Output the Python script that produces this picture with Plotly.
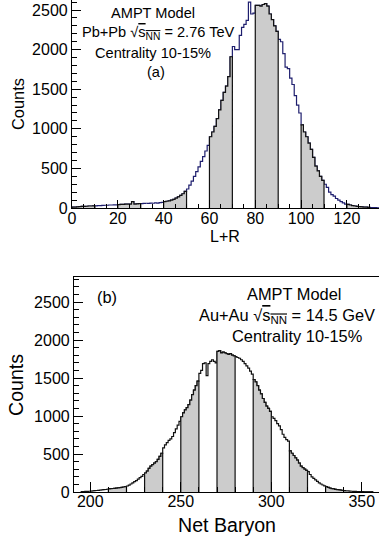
import numpy as np
import plotly.graph_objects as go

# ---------------- data ----------------
# Panel (a): L+R distribution, bins of width 1 starting at 0
lr_start = 0
lr_counts = [
    10, 12, 15, 18, 20, 20, 22, 25, 25, 28,
    28, 30, 30, 32, 35, 35, 38, 38, 40, 40,
    42, 45, 45, 48, 48, 50, 80, 50, 52, 55,
    55, 58, 60, 58, 62, 60, 65, 62, 68, 70,
    80, 85, 90, 100, 110, 125, 140, 160, 180, 210,
    240, 290, 340, 400, 460, 520, 590, 650, 720, 790,
    900, 960, 1030, 1130, 1240, 1360, 1460, 1540, 1660, 1910,
    2040, 2000, 2000, 2180, 2280, 2320, 2370, 2600, 2450, 2460,
    2560, 2560, 2550, 2570, 2580, 2550, 2450, 2380, 2300, 2230,
    2130, 2100, 1950, 1780, 1760, 1640, 1560, 1420, 1300, 1200,
    1050, 960, 900, 820, 740, 640, 530, 470, 400, 350,
    300, 260, 200, 170, 150, 120, 100, 80, 65, 50,
    45, 38, 30, 25, 20, 17, 14, 12, 10, 8,
    6, 5, 4, 3,
]
lr_bands = [0, 20, 40, 60, 80, 100, 120]

# Panel (b): Net baryon distribution, bins of width 1 starting at 195
nb_start = 195
nb_counts = [
    5, 6, 8, 8, 10,
    12, 14, 17, 20, 22, 25, 27, 30, 33, 36,
    40, 44, 46, 48, 50, 55, 58, 62, 66, 72,
    79, 90, 105, 120, 136, 150, 170, 190, 205, 230,
    250, 275, 310, 340, 360, 380, 400, 430, 470, 510,
    580, 620, 650, 680, 700, 730, 780, 830, 880, 930,
    990, 1040, 1080, 1110, 1150, 1210, 1280, 1340, 1400, 1460,
    1560, 1600, 1690, 1700, 1530, 1690, 1720, 1740, 1720, 1700,
    1850, 1860, 1830, 1840, 1830, 1820, 1810, 1820, 1800, 1790,
    1780, 1770, 1760, 1740, 1720, 1690, 1660, 1630, 1590, 1550,
    1480, 1450, 1400, 1340, 1290, 1230, 1180, 1130, 1100, 1060,
    990, 970, 940, 900, 870, 820, 760, 720, 690, 670,
    540, 510, 480, 450, 420, 380, 340, 320, 300, 285,
    267, 230, 200, 180, 160, 140, 120, 105, 92, 80,
    70, 60, 52, 45, 40, 35, 30, 27, 24, 20,
    18, 16, 14, 12, 10, 8, 8, 6, 5, 5,
    4, 3, 3, 2, 2, 1,
]
nb_bands = [210, 230, 250, 270, 290, 310, 330, 350]
band_width = 10

# ---------------- helpers ----------------
def step_outline(start, counts):
    edges = start + np.arange(len(counts))
    c = np.asarray(counts, dtype=float)
    x = np.concatenate([[edges[0]], edges, [edges[-1] + 1, edges[-1] + 1]])
    y = np.concatenate([[0.0], c, [c[-1], 0.0]])
    return x, y

def band_shape(start, counts, lo, width):
    edges = start + np.arange(len(counts))
    c = np.asarray(counts, dtype=float)
    m = (edges >= lo) & (edges < lo + width)
    if not m.any():
        return None, None
    e = edges[m]
    v = c[m]
    x = np.concatenate([[e[0]], e, [e[-1] + 1, e[-1] + 1]])
    y = np.concatenate([[0.0], v, [v[-1], 0.0]])
    return x, y

W, H = 379, 542
FONT = "Liberation Sans, Arial, Helvetica, sans-serif"

def px(xp):
    return xp / W

def py(yp):
    return 1 - yp / H

fig = go.Figure()

# Panel (a)
xa, ya = step_outline(lr_start, lr_counts)
fig.add_trace(go.Scatter(x=xa, y=ya, mode="lines", line=dict(shape="hv", color="#1e1e6e", width=1.2),
                         xaxis="x", yaxis="y", hoverinfo="skip", showlegend=False))
for lo in lr_bands:
    bx, by = band_shape(lr_start, lr_counts, lo, band_width)
    if bx is None:
        continue
    fig.add_trace(go.Scatter(x=bx, y=by, mode="lines", fill="toself", fillcolor="#cccccc",
                             line=dict(shape="hv", color="#111111", width=1.2),
                             xaxis="x", yaxis="y", hoverinfo="skip", showlegend=False))

# Panel (b)
xb, yb = step_outline(nb_start, nb_counts)
fig.add_trace(go.Scatter(x=xb, y=yb, mode="lines", line=dict(shape="hv", color="#111111", width=1.2),
                         xaxis="x2", yaxis="y2", hoverinfo="skip", showlegend=False))
for lo in nb_bands:
    bx, by = band_shape(nb_start, nb_counts, lo, band_width)
    if bx is None:
        continue
    fig.add_trace(go.Scatter(x=bx, y=by, mode="lines", fill="toself", fillcolor="#cccccc",
                             line=dict(shape="hv", color="#111111", width=1.2),
                             xaxis="x2", yaxis="y2", hoverinfo="skip", showlegend=False))

tickfont = dict(family=FONT, size=16, color="black")
common_axis = dict(showgrid=False, zeroline=False, showline=True, linecolor="black", linewidth=1.2,
                   ticks="inside", tickcolor="black", tickwidth=1, tickfont=tickfont, automargin=False)

fig.update_layout(
    width=W, height=H, autosize=False,
    margin=dict(l=0, r=0, t=0, b=0, pad=0),
    paper_bgcolor="white", plot_bgcolor="white",
    xaxis=dict(domain=[px(72), 1.0], range=[0, 134], dtick=20, ticklen=8, ticklabelstandoff=-4,
               minor=dict(dtick=5, ticklen=4, ticks="inside", tickcolor="black"),
               anchor="y", **common_axis),
    yaxis=dict(domain=[py(208), 1.0], range=[0, 2627], dtick=500, ticklen=9,
               minor=dict(dtick=100, ticklen=5, ticks="inside", tickcolor="black"),
               anchor="x", **common_axis),
    xaxis2=dict(domain=[px(74), 1.0], range=[191, 359.5], dtick=50, ticklen=10, ticklabelstandoff=-5,
                minor=dict(dtick=10, ticklen=5, ticks="inside", tickcolor="black"),
                anchor="y2", mirror=True, **common_axis),
    yaxis2=dict(domain=[py(492), py(277)], range=[0, 2829], dtick=500, ticklen=9,
                minor=dict(dtick=100, ticklen=5, ticks="inside", tickcolor="black"),
                anchor="x2", **common_axis),
)

sq = "\u221a<span style='text-decoration:overline'>s<sub>NN</sub></span>"
ann = [
    # panel (a)
    ("AMPT Model", 153, 13, 14.6, 0),
    ("Pb+Pb " + sq + " = 2.76 TeV", 158, 33, 14.6, 0),
    ("Centrality 10-15%", 153, 53, 14.6, 0),
    ("(a)", 156, 72, 14.6, 0),
    ("L+R", 225, 237, 16, 0),
    ("Counts", 18, 104, 16.4, -90),
    # panel (b)
    ("(b)", 107, 297, 16.4, 0),
    ("AMPT Model", 294, 294, 16.4, 0),
    ("Au+Au " + sq + " = 14.5 GeV", 287, 316, 16.4, 0),
    ("Centrality 10-15%", 297, 336, 16.4, 0),
    ("Net Baryon", 227, 525, 19.6, 0),
    ("Counts", 16, 385, 19.6, -90),
]
for text, x, y, size, ang in ann:
    fig.add_annotation(text=text, x=px(x), y=py(y), xref="paper", yref="paper",
                       xanchor="center", yanchor="middle", showarrow=False, textangle=ang,
                       font=dict(family=FONT, size=size, color="black"))

fig.write_html("out.html", config={"displayModeBar": False},
               post_script="document.body.style.margin='0';")
